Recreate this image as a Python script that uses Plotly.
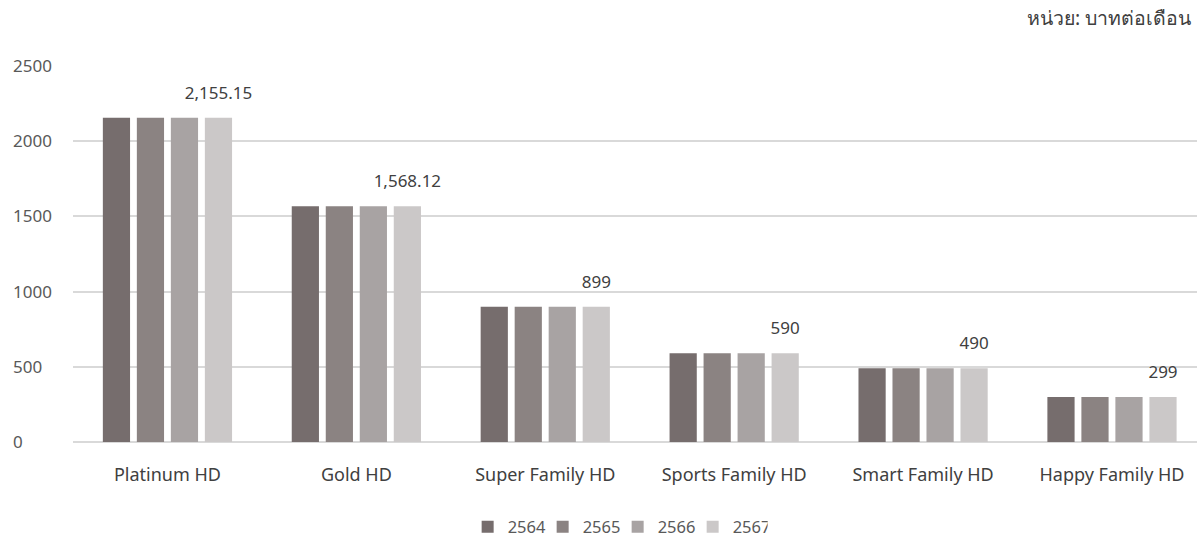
import plotly.graph_objects as go

categories = ["Platinum HD", "Gold HD", "Super Family HD", "Sports Family HD", "Smart Family HD", "Happy Family HD"]
years = ["2564", "2565", "2566", "2567"]
values_2564 = [2155.15, 1568.12, 899, 590, 490, 299]
values_2565 = [2155.15, 1568.12, 899, 590, 490, 299]
values_2566 = [2155.15, 1568.12, 899, 590, 490, 299]
values_2567 = [2155.15, 1568.12, 899, 590, 490, 299]
label_2567 = ["2,155.15", "1,568.12", "899", "590", "490", "299"]
y_ticks = [0, 500, 1000, 1500, 2000, 2500]
colors = ["#766d6d", "#8b8382", "#a8a3a3", "#cbc8c8"]

series = [values_2564, values_2565, values_2566, values_2567]

fig = go.Figure()
for i, (yr, vals) in enumerate(zip(years, series)):
    kw = {}
    if i == 3:
        kw = dict(text=["<span style='font-size:17px'>" + t + "</span><br> " for t in label_2567],
                  textposition="outside", constraintext="none",
                  textfont=dict(size=10, color="#404040"), cliponaxis=False)
    fig.add_trace(go.Bar(name=yr, x=categories, y=vals, marker=dict(color=colors[i], line=dict(width=0)),
                         hoverinfo="skip", **kw))

font_family = "Noto Sans, Tahoma, sans-serif"

fig.update_layout(
    width=1197, height=537,
    margin=dict(l=0, r=0, t=66, b=95, autoexpand=False),
    paper_bgcolor="white", plot_bgcolor="white",
    barmode="group", bargap=0.28, bargroupgap=0.2,
    font=dict(family=font_family, color="#595959", size=14),
    showlegend=True,
    legend=dict(orientation="h", x=0.516, xanchor="center", y=-0.226, yanchor="middle",
                font=dict(size=16.5, color="#595959"), itemwidth=30, traceorder="normal",
                entrywidth=30, entrywidthmode="pixels"),
    xaxis=dict(domain=[73 / 1197, 1], range=[-0.5, 5.45], showgrid=False, showline=False,
               automargin=False,
               tickfont=dict(size=18, color="#404040"), ticklabelstandoff=20, ticks=""),
    yaxis=dict(range=[0, 2500], tickvals=y_ticks, showticklabels=False, showgrid=True,
               automargin=False,
               gridcolor="#d9d9d9", gridwidth=1.5, zeroline=True, zerolinecolor="#d9d9d9",
               zerolinewidth=1.5, showline=False),
    yaxis2=dict(overlaying="y", anchor="free", position=0, side="right", range=[0, 2500],
                automargin=False,
                tickvals=y_ticks, ticktext=[str(v) for v in y_ticks], ticklabelposition="outside",
                ticklabelstandoff=12, showgrid=False, zeroline=False, showline=False,
                tickfont=dict(size=17, color="#595959"), ticks=""),
    annotations=[dict(text="หน่วย: บาทต่อเดือน", xref="paper", yref="paper", x=1025 / 1197, y=1.128,
                      xanchor="left", yanchor="middle", showarrow=False,
                      font=dict(size=19.5, color="#404040"))],
)
# invisible trace so the left label axis is drawn
fig.add_trace(go.Scatter(x=[categories[0]], y=[0], yaxis="y2", mode="markers",
                         marker=dict(opacity=0), showlegend=False, hoverinfo="skip"))

fig.write_html("out.html", config={"displayModeBar": False},
               post_script="document.body.style.margin='0';document.body.style.overflow='hidden';")
